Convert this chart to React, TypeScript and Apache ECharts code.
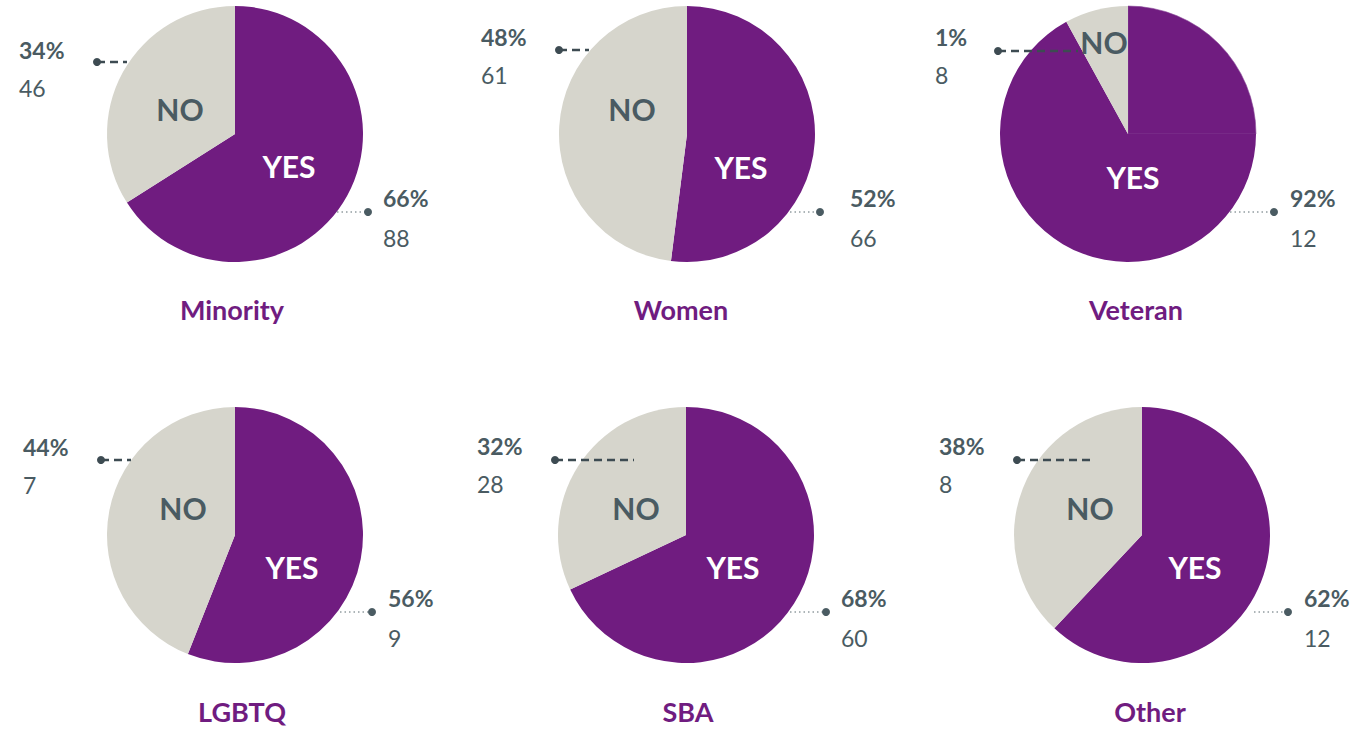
import React, { useEffect, useRef } from "react";
import * as echarts from "echarts";

// ---- data ----
const categories = ["Minority", "Women", "Veteran", "LGBTQ", "SBA", "Other"];
const yesPct = [66, 52, 92, 56, 68, 62];
const noPct = [34, 48, 8, 44, 32, 38];
const yesCount = [88, 66, 12, 9, 60, 12];
const noCount = [46, 61, 8, 7, 28, 8];
const yesLabelPct = ["66%", "52%", "92%", "56%", "68%", "62%"];
const noLabelPct = ["34%", "48%", "1%", "44%", "32%", "38%"];
// Veteran's YES wedge is drawn in two parts in the original
const veteranYesParts = [25, 67];

// ---- layout (pixels) ----
const centers: [number, number][] = [
  [235, 134], [687, 134], [1128, 134],
  [235, 535], [686, 535], [1142, 535],
];
const RADIUS = 128;
const titleX = [232, 681, 1136, 242, 688, 1150];
const titleY = [309, 309, 309, 711, 711, 711];
// inner label offsets relative to centre
const yesInner: [number, number][] = [[54, 32], [54, 33], [5, 43], [57, 32], [47, 32], [53, 32]];
const noInner: [number, number][] = [[-55, -25], [-55, -25], [-24, -92], [-52, -27], [-50, -27], [-52, -27]];
// NO callout: text x, pct y, dot x, dot y, line end x
const noCallout = [
  { tx: 19, ty: 50, dx: 97, dy: 62, lx: 127 },
  { tx: 481, ty: 37, dx: 559, dy: 50, lx: 589 },
  { tx: 935, ty: 37, dx: 998, dy: 51, lx: 1078 },
  { tx: 23, ty: 447, dx: 101, dy: 460, lx: 131 },
  { tx: 477, ty: 446, dx: 555, dy: 460, lx: 634 },
  { tx: 939, ty: 446, dx: 1017, dy: 460, lx: 1095 },
];
const yesCallout = [
  { tx: 383, ty: 198, dx: 368, dy: 212, lx: 337 },
  { tx: 850, ty: 198, dx: 820, dy: 212, lx: 790 },
  { tx: 1290, ty: 198, dx: 1274, dy: 212, lx: 1230 },
  { tx: 388, ty: 598, dx: 372, dy: 612, lx: 340 },
  { tx: 841, ty: 598, dx: 826, dy: 612, lx: 790 },
  { tx: 1304, ty: 598, dx: 1288, dy: 612, lx: 1254 },
];

const PURPLE = "#701c80";
const GREY = "#d6d5cc";
const DARK = "#4a5b62";
const FONT = "Lato, 'Open Sans', sans-serif";
const Z = 100;

export default function App() {
  const ref = useRef<HTMLDivElement>(null);
  useEffect(() => {
    document.body.style.margin = "0";
    const chart = echarts.init(ref.current!, null, { renderer: "svg" });
    const series: any[] = categories.map((cat, i) => {
      const data =
        cat === "Veteran"
          ? [
              { name: "YES", value: veteranYesParts[0], itemStyle: { color: PURPLE, borderColor: "#8a4a98", borderWidth: 0.6 } },
              { name: "YES", value: veteranYesParts[1], itemStyle: { color: PURPLE } },
              { name: "NO", value: noPct[i], itemStyle: { color: GREY } },
            ]
          : [
              { name: "YES", value: yesPct[i], itemStyle: { color: PURPLE } },
              { name: "NO", value: noPct[i], itemStyle: { color: GREY } },
            ];
      return {
        type: "pie",
        name: cat,
        center: centers[i],
        radius: RADIUS,
        startAngle: 90,
        clockwise: true,
        silent: true,
        z: 1,
        label: { show: false },
        labelLine: { show: false },
        data,
      };
    });

    const graphic: any[] = [];
    categories.forEach((cat, i) => {
      const [cx, cy] = centers[i];
      graphic.push({
        type: "text", x: titleX[i], y: titleY[i], z: Z,
        style: { text: cat, fill: PURPLE, font: `bold 27px ${FONT}`, align: "center", verticalAlign: "middle" },
      });
      graphic.push({
        type: "text", x: cx + yesInner[i][0], y: cy + yesInner[i][1], z: Z,
        style: { text: "YES", fill: "#ffffff", font: `bold 30px ${FONT}`, align: "center", verticalAlign: "middle" },
      });
      graphic.push({
        type: "text", x: cx + noInner[i][0], y: cy + noInner[i][1], z: Z,
        style: { text: "NO", fill: DARK, font: `bold 30px ${FONT}`, align: "center", verticalAlign: "middle" },
      });
      const n = noCallout[i];
      graphic.push({
        type: "line", z: Z, shape: { x1: n.dx, y1: n.dy, x2: n.lx, y2: n.dy },
        style: { stroke: "#3d4b52", lineWidth: 2.5, lineDash: [8, 5] },
      });
      graphic.push({ type: "circle", z: Z, shape: { cx: n.dx, cy: n.dy, r: 4 }, style: { fill: "#3d4b52" } });
      graphic.push({
        type: "text", x: n.tx, y: n.ty, z: Z,
        style: { text: noLabelPct[i], fill: DARK, font: `bold 23px ${FONT}`, align: "left", verticalAlign: "middle" },
      });
      graphic.push({
        type: "text", x: n.tx, y: n.ty + 38, z: Z,
        style: { text: String(noCount[i]), fill: DARK, font: `23px ${FONT}`, align: "left", verticalAlign: "middle" },
      });
      const y = yesCallout[i];
      graphic.push({
        type: "line", z: Z, shape: { x1: y.lx, y1: y.dy, x2: y.dx, y2: y.dy },
        style: { stroke: "#5a6a70", lineWidth: 1, lineDash: [1.5, 3] },
      });
      graphic.push({ type: "circle", z: Z, shape: { cx: y.dx, cy: y.dy, r: 4 }, style: { fill: "#4a5b62" } });
      graphic.push({
        type: "text", x: y.tx, y: y.ty, z: Z,
        style: { text: yesLabelPct[i], fill: DARK, font: `bold 23px ${FONT}`, align: "left", verticalAlign: "middle" },
      });
      graphic.push({
        type: "text", x: y.tx, y: y.ty + 40, z: Z,
        style: { text: String(yesCount[i]), fill: DARK, font: `23px ${FONT}`, align: "left", verticalAlign: "middle" },
      });
    });

    chart.setOption({
      animation: false,
      backgroundColor: "#ffffff",
      series,
      graphic: { elements: graphic },
    });
    return () => chart.dispose();
  }, []);
  return <div ref={ref} style={{ width: 1356, height: 729 }} />;
}
